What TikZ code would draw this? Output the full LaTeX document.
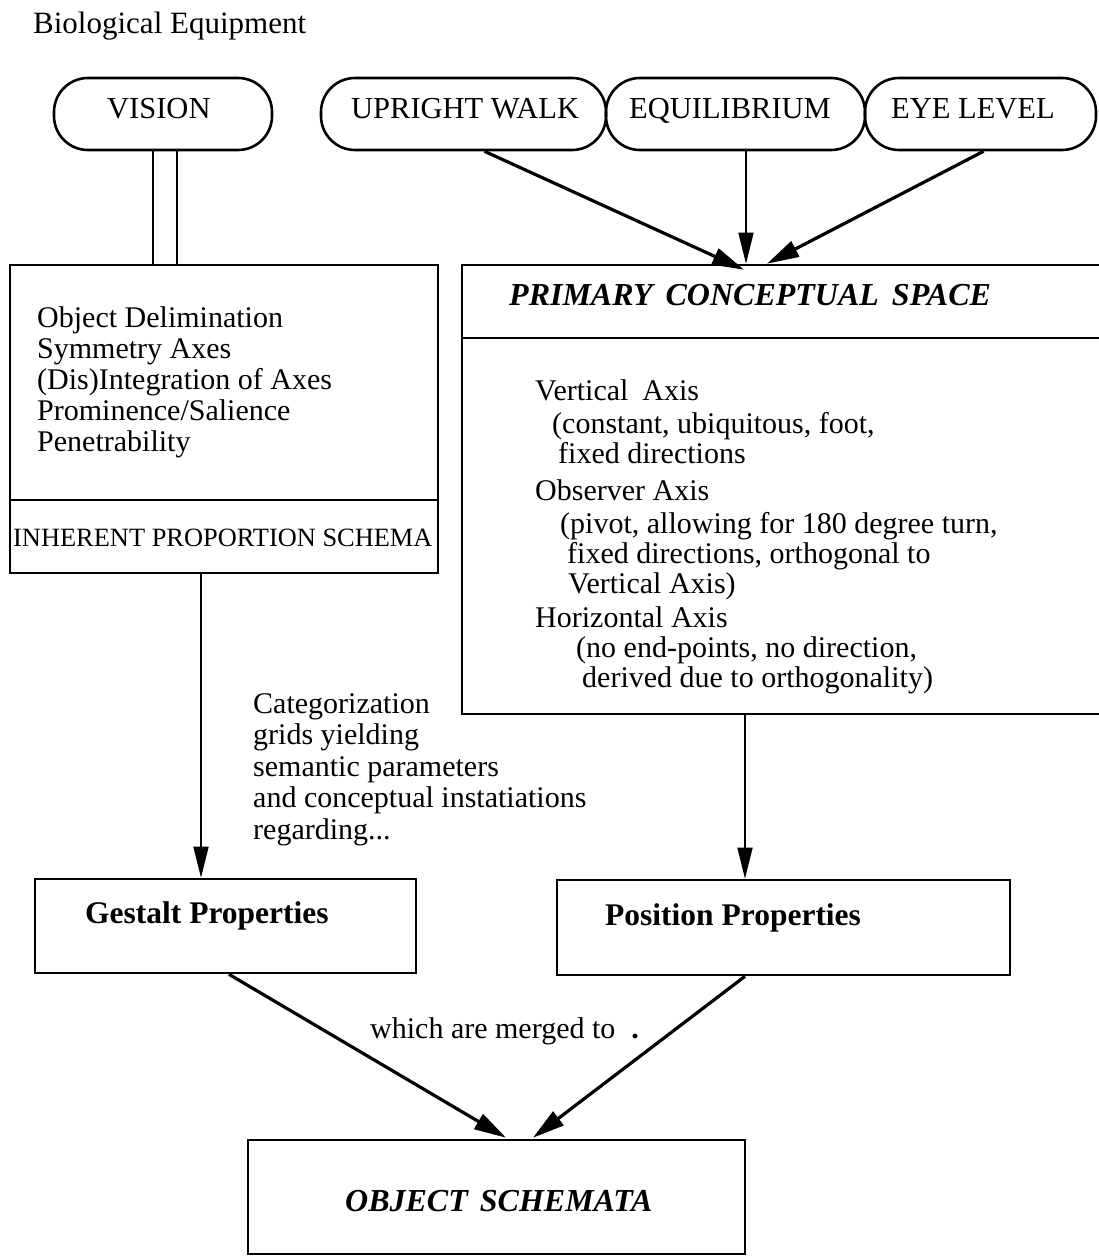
\documentclass[tikz,border=0pt]{standalone}
\usepackage{fontspec}
\setmainfont{Liberation Serif}
\usetikzlibrary{arrows.meta}

\begin{document}
\begin{tikzpicture}[x=1pt,y=-1pt,
  frame/.style={draw, line width=2.6pt, rectangle, inner sep=0pt},
  pill/.style={draw, line width=2.6pt, rectangle, rounded corners=34pt,
    inner sep=0pt, minimum height=72pt},
  txt/.style={inner sep=0pt, anchor=base west, font=\fontsize{30}{31}\selectfont},
  pilltxt/.style={inner sep=0pt, anchor=base west, font=\fontsize{30.5}{31}\selectfont},
  smalltxt/.style={inner sep=0pt, anchor=base west, font=\fontsize{26.4}{28}\selectfont},
  boldtxt/.style={inner sep=0pt, anchor=base west, font=\fontsize{31.5}{33}\selectfont\bfseries},
  headtxt/.style={inner sep=0pt, anchor=base west, font=\fontsize{32}{34}\selectfont\bfseries\itshape},
  thinarrow/.style={draw, line width=1.7pt, -{Triangle[length=31pt,width=15pt]}},
  thickarrow/.style={draw, line width=3.2pt, -{Triangle[length=32pt,width=17pt]}},
  rail/.style={draw, line width=2.4pt}
]
\useasboundingbox (0,0) rectangle (1099,1258);
\clip (0,0) rectangle (1099,1258);

% heading
\node[txt, font=\fontsize{31}{33}\selectfont] (title) at (33,33) {Biological Equipment};

% biological inputs
\node[pill, minimum width=218pt] (vision) at (163,114) {};
\node[pill, minimum width=285pt] (walk)   at (463.5,114) {};
\node[pill, minimum width=259pt] (equi)   at (735.5,114) {};
\node[pill, minimum width=231pt] (eye)    at (980.5,114) {};
\node[pilltxt] (visiont) at (107,118) {VISION};
\node[pilltxt] (walkt)   at (351,118) {UPRIGHT WALK};
\node[pilltxt] (equit)   at (629,118) {EQUILIBRIUM};
\node[pilltxt] (eyet)    at (891,118) {EYE LEVEL};

% inherent proportion schema
\node[frame, minimum width=428pt, minimum height=308pt] (ips) at (224,419) {};
\draw[line width=2.6pt] (ips.west |- 0,500) -- (ips.east |- 0,500);
\node[txt] (l1) at (37,327) {Object Delimination};
\node[txt] (l2) at (37,358) {Symmetry Axes};
\node[txt] (l3) at (37,389) {(Dis)Integration of Axes};
\node[txt] (l4) at (37,420) {Prominence/Salience};
\node[txt] (l5) at (37,451) {Penetrability};
\node[smalltxt] (ipst) at (13,546) {INHERENT PROPORTION SCHEMA};

% primary conceptual space
\node[frame, minimum width=648pt, minimum height=449pt] (pcs) at (786,489.5) {};
\draw[line width=2.6pt] (pcs.west |- 0,338) -- (pcs.east |- 0,338);
\node[headtxt] (pcst) at (509,305) {PRIMARY\hspace{13pt}CONCEPTUAL\hspace{13pt}SPACE};
\node[txt] (r1)  at (535,400) {Vertical\hspace{14pt}Axis};
\node[txt] (r2)  at (552,433) {(constant, ubiquitous, foot,};
\node[txt] (r3)  at (558,463) {fixed directions};
\node[txt] (r4)  at (535,500) {Observer Axis};
\node[txt] (r5)  at (560,533) {(pivot, allowing for 180 degree turn,};
\node[txt] (r6)  at (567,563) {fixed directions, orthogonal to};
\node[txt] (r7)  at (568,593) {Vertical Axis)};
\node[txt] (r8)  at (535,627) {Horizontal Axis};
\node[txt] (r9)  at (576,657) {(no end-points, no direction,};
\node[txt] (r10) at (582,687) {derived due to orthogonality)};

% categorization note
\node[txt] (c1) at (253,713) {Categorization};
\node[txt] (c2) at (253,744.5) {grids yielding};
\node[txt] (c3) at (253,776) {semantic parameters};
\node[txt] (c4) at (253,807.5) {and conceptual instatiations};
\node[txt] (c5) at (253,839) {regarding...};

% property boxes
\node[frame, minimum width=381pt, minimum height=94pt] (gest) at (225.5,926) {};
\node[boldtxt] (gestt) at (85,923) {Gestalt Properties};
\node[frame, minimum width=453pt, minimum height=95pt] (pos) at (783.5,927.5) {};
\node[boldtxt] (post) at (605,925) {Position Properties};

\node[txt] (merge) at (370,1038) {which are merged to\hspace{16pt}{\bfseries .}};

% result
\node[frame, minimum width=497pt, minimum height=114pt] (obj) at (496.5,1197) {};
\node[headtxt] (objt) at (345,1211) {OBJECT\hspace{12pt}SCHEMATA};

% connectors
\draw[rail] ([xshift=-10pt]vision.south) -- ([xshift=-10pt]vision.south |- ips.north);
\draw[rail] ([xshift=14pt]vision.south) -- ([xshift=14pt]vision.south |- ips.north);
\draw[thickarrow] ([xshift=21pt]walk.south) -- ([xshift=-42pt,yshift=-6pt]pcs.north);
\draw[thinarrow] ([xshift=10.5pt]equi.south) -- ([xshift=-40pt]pcs.north);
\draw[thickarrow] ([xshift=3pt]eye.south) -- ([xshift=-19pt]pcs.north);
\draw[thinarrow] ([xshift=-23pt]ips.south) -- ([xshift=-24.5pt]gest.north);
\draw[thinarrow] ([xshift=-41pt]pcs.south) -- ([xshift=-38.5pt]pos.north);
\draw[thickarrow] ([xshift=3.5pt]gest.south) -- ([xshift=9.5pt,yshift=1pt]obj.north);
\draw[thickarrow] ([xshift=-38.5pt]pos.south) -- ([xshift=36.5pt,yshift=1pt]obj.north);
\end{tikzpicture}
\end{document}
